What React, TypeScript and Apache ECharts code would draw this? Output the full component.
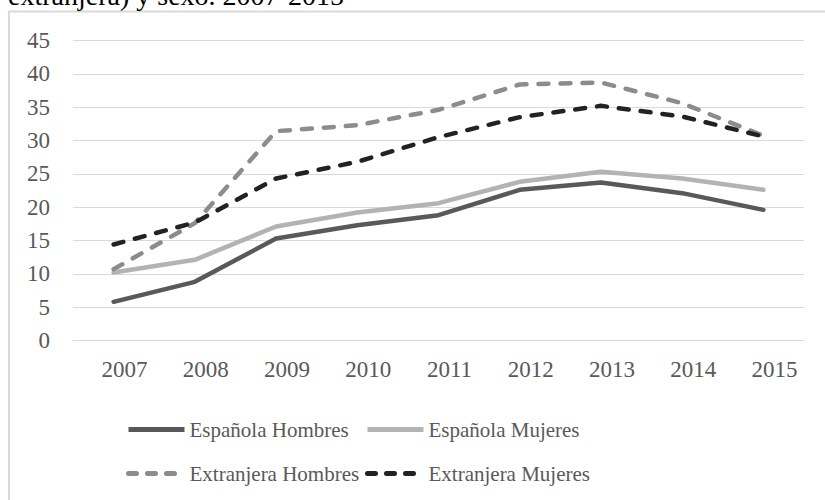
import React, { useEffect, useRef } from "react";
import * as echarts from "echarts";

const years = ["2007", "2008", "2009", "2010", "2011", "2012", "2013", "2014", "2015"];
const espanolaHombres = [5.8, 8.8, 15.3, 17.3, 18.8, 22.6, 23.7, 22.1, 19.6];
const espanolaMujeres = [10.2, 12.1, 17.1, 19.2, 20.6, 23.8, 25.3, 24.3, 22.6];
const extranjeraHombres = [10.7, 17.6, 31.4, 32.3, 34.6, 38.4, 38.7, 35.6, 30.7];
const extranjeraMujeres = [14.4, 17.7, 24.3, 26.8, 30.5, 33.5, 35.2, 33.6, 30.6];
const titleText = "extranjera) y sexo. 2007-2015";

const FONT = "Liberation Serif";

export default function App() {
  const ref = useRef<HTMLDivElement>(null);
  useEffect(() => {
    if (!ref.current) return;
    const chart = echarts.init(ref.current, undefined, { renderer: "svg" });
    const legendText = { color: "#595959", fontFamily: FONT, fontSize: 21 };
    const mkLegend = (name: string, left: number, top: number, color: string, type: any, cap: string) => ({
      data: [name],
      left,
      top,
      padding: 0,
      itemWidth: 56,
      itemHeight: 14,
      itemGap: 0,
      textStyle: legendText,
      selectedMode: false,
      itemStyle: { opacity: 0, borderWidth: 0 },
      lineStyle: { width: 5, color, type, cap, opacity: 1 },
    });
    chart.setOption({
      animation: false,
      backgroundColor: "#ffffff",
      textStyle: { fontFamily: FONT },
      graphic: [
        {
          type: "rect",
          shape: { x: 9, y: 11.5, width: 900, height: 600 },
          style: { fill: "none", stroke: "#d9d9d9", lineWidth: 2 },
          silent: true,
        },
        {
          type: "text",
          x: 8,
          y: -4.5,
          style: {
            text: titleText,
            fontFamily: FONT,
            fontSize: 28,
            fill: "#000000",
            verticalAlign: "middle",
            align: "left",
          },
          silent: true,
        },
      ],
      legend: [
        mkLegend("Española Hombres", 126, 419, "#595959", "solid", "butt"),
        mkLegend("Española Mujeres", 365, 419, "#b3b3b3", "solid", "butt"),
        mkLegend("Extranjera Hombres", 126, 463, "#8c8c8c", [8, 11], "round"),
        mkLegend("Extranjera Mujeres", 365, 463, "#222222", [8, 11], "round"),
      ],
      grid: { left: 73, right: 21, top: 40.5, bottom: 159.5, containLabel: false },
      xAxis: {
        type: "category",
        data: years,
        boundaryGap: true,
        axisLine: { show: true, lineStyle: { color: "#d9d9d9", width: 1 } },
        axisTick: { show: false },
        axisLabel: {
          color: "#595959",
          fontFamily: FONT,
          fontSize: 23,
          margin: 17,
          padding: [0, 0, 0, 22],
        },
      },
      yAxis: {
        type: "value",
        min: 0,
        max: 45,
        interval: 5,
        axisLine: { show: false },
        axisTick: { show: false },
        splitLine: { show: true, lineStyle: { color: "#d9d9d9", width: 1 } },
        axisLabel: {
          color: "#595959",
          fontFamily: FONT,
          fontSize: 23,
          margin: 23,
        },
      },
      series: [
        {
          name: "Española Hombres",
          type: "line",
          data: espanolaHombres,
          symbol: "none",
          lineStyle: { color: "#595959", width: 4.5, cap: "round", join: "round" },
          itemStyle: { color: "#595959" },
        },
        {
          name: "Española Mujeres",
          type: "line",
          data: espanolaMujeres,
          symbol: "none",
          lineStyle: { color: "#b3b3b3", width: 4.5, cap: "round", join: "round" },
          itemStyle: { color: "#b3b3b3" },
        },
        {
          name: "Extranjera Hombres",
          type: "line",
          data: extranjeraHombres,
          symbol: "none",
          lineStyle: { color: "#8c8c8c", width: 4.5, type: [10, 12], cap: "round", join: "round" },
          itemStyle: { color: "#8c8c8c" },
        },
        {
          name: "Extranjera Mujeres",
          type: "line",
          data: extranjeraMujeres,
          symbol: "none",
          lineStyle: { color: "#222222", width: 4.5, type: [10, 12], cap: "round", join: "round" },
          itemStyle: { color: "#222222" },
        },
      ],
    });
    return () => chart.dispose();
  }, []);
  return (
    <div
      ref={ref}
      style={{ position: "fixed", left: 0, top: 0, width: 825, height: 500 }}
    />
  );
}
